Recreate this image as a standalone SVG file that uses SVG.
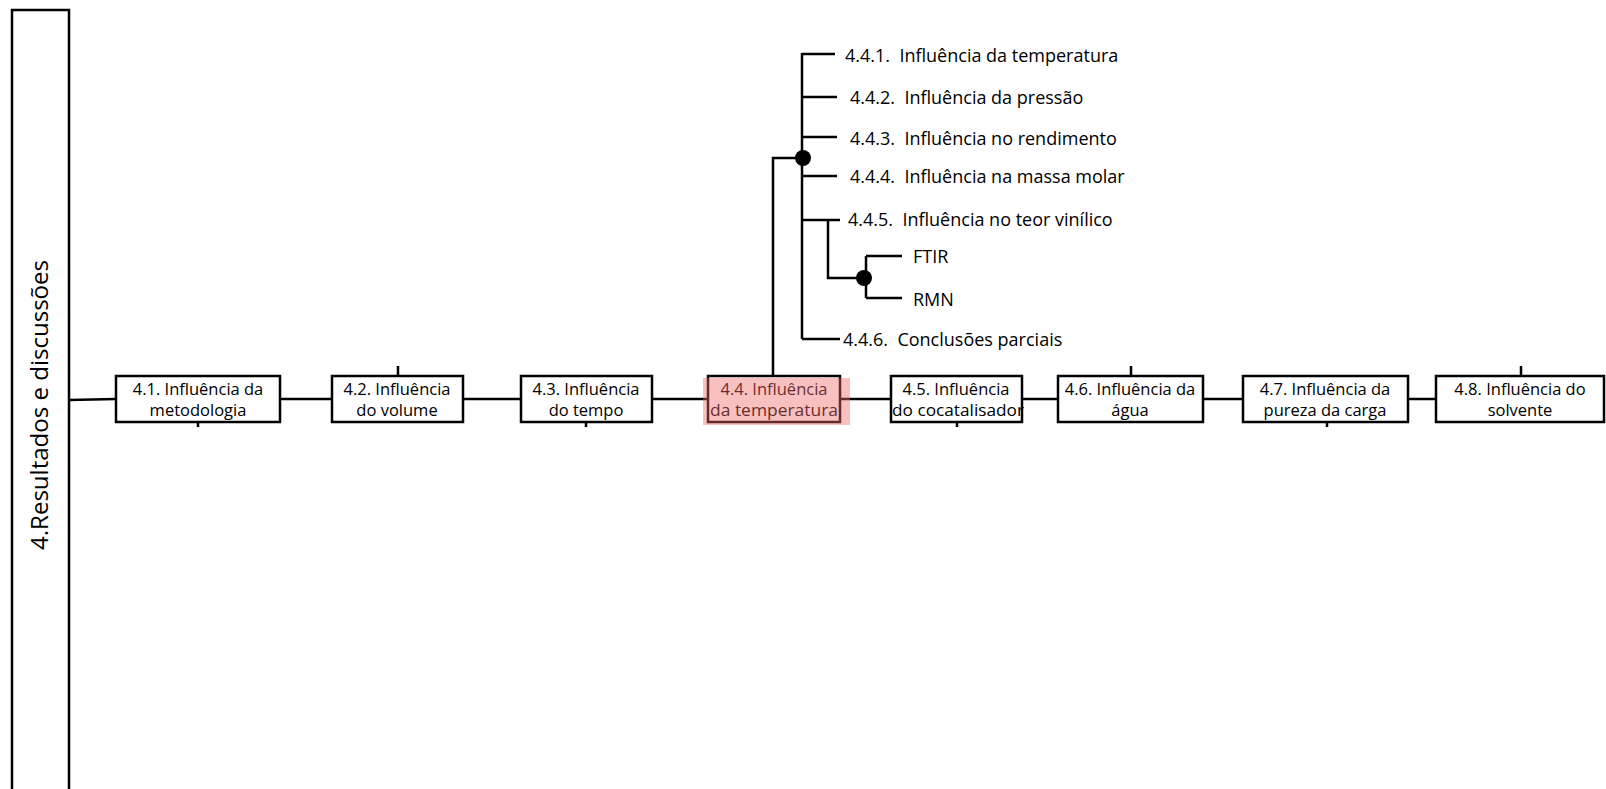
<svg xmlns="http://www.w3.org/2000/svg" width="1606" height="789" viewBox="0 0 1606 789">
<style>
.ln{stroke:#000;stroke-width:2.5;fill:none}
.bx{fill:#fff;stroke:#000;stroke-width:2.5}
.bt{font-family:"Open Sans","Liberation Sans",sans-serif;font-size:16.5px;fill:#000;text-anchor:middle}
.st{font-family:"Open Sans","Liberation Sans",sans-serif;font-size:18px;fill:#000}
.dot{fill:#000}
</style>
<rect width="1606" height="789" fill="#fff"/>
<g id="root">
<rect x="12" y="10" width="57" height="800" class="bx"/>
<text transform="translate(48,405) rotate(-90)" font-family="'Open Sans','Liberation Sans',sans-serif" font-size="24" text-anchor="middle" textLength="290" lengthAdjust="spacingAndGlyphs">4.Resultados e discussões</text>
</g>
<g id="connectors">
<path class="ln" d="M69 400 L116 399 M280 399 H332 M463 399 H521 M652 399 H708 M840 399 H891 M1022 399 H1058 M1203 399 H1243 M1408 399 H1436"/>
<path class="ln" d="M198 422 V427 M398 366 V376 M586 422 V427 M957 422 V427 M1131 366 V376 M1327 422 V427 M1521 366 V376"/>
<path class="ln" d="M773 375 V158 H803"/>
<path class="ln" d="M802 53 V339 M802 54 H835 M802 97 H837 M802 137 H837 M802 176 H837 M802 220 H840 M802 339 H840"/>
<path class="ln" d="M828 220 V278 H864 M866 256 V298 M866 256 H902 M866 298 H902"/>
<circle class="dot" cx="803" cy="158" r="8"/>
<circle class="dot" cx="864" cy="278" r="8"/>
</g>
<g id="n41"><rect x="116" y="376" width="164" height="46" class="bx"/><text class="bt" x="198" y="395">4.1. Influência da</text><text class="bt" x="198" y="416">metodologia</text></g>
<g id="n42"><rect x="332" y="376" width="131" height="46" class="bx"/><text class="bt" x="397" y="395">4.2. Influência</text><text class="bt" x="397" y="416">do volume</text></g>
<g id="n43"><rect x="521" y="376" width="131" height="46" class="bx"/><text class="bt" x="586" y="395">4.3. Influência</text><text class="bt" x="586" y="416">do tempo</text></g>
<g id="n44"><rect x="708" y="376" width="132" height="46" class="bx"/><text class="bt" x="774" y="395">4.4. Influência</text><text class="bt" x="774" y="416" textLength="128" lengthAdjust="spacingAndGlyphs">da temperatura</text><rect x="703" y="378" width="147" height="47" fill="#f06a6a" fill-opacity="0.42"/></g>
<g id="n45"><rect x="891" y="376" width="131" height="46" class="bx"/><text class="bt" x="956" y="395">4.5. Influência</text><text class="bt" x="958" y="416" textLength="132" lengthAdjust="spacingAndGlyphs">do cocatalisador</text></g>
<g id="n46"><rect x="1058" y="376" width="145" height="46" class="bx"/><text class="bt" x="1130" y="395">4.6. Influência da</text><text class="bt" x="1130" y="416">água</text></g>
<g id="n47"><rect x="1243" y="376" width="165" height="46" class="bx"/><text class="bt" x="1325" y="395">4.7. Influência da</text><text class="bt" x="1325" y="416">pureza da carga</text></g>
<g id="n48"><rect x="1436" y="376" width="168" height="46" class="bx"/><text class="bt" x="1520" y="395">4.8. Influência do</text><text class="bt" x="1520" y="416">solvente</text></g>
<g id="n441"><text class="st" x="845" y="62" xml:space="preserve">4.4.1.  Influência da temperatura</text></g>
<g id="n442"><text class="st" x="850" y="104" xml:space="preserve">4.4.2.  Influência da pressão</text></g>
<g id="n443"><text class="st" x="850" y="145" xml:space="preserve">4.4.3.  Influência no rendimento</text></g>
<g id="n444"><text class="st" x="850" y="183" xml:space="preserve">4.4.4.  Influência na massa molar</text></g>
<g id="n445"><text class="st" x="848" y="226" xml:space="preserve">4.4.5.  Influência no teor vinílico</text></g>
<g id="ftir"><text class="st" x="913" y="263">FTIR</text></g>
<g id="rmn"><text class="st" x="913" y="306">RMN</text></g>
<g id="n446"><text class="st" x="843" y="346" xml:space="preserve">4.4.6.  Conclusões parciais</text></g>
</svg>
